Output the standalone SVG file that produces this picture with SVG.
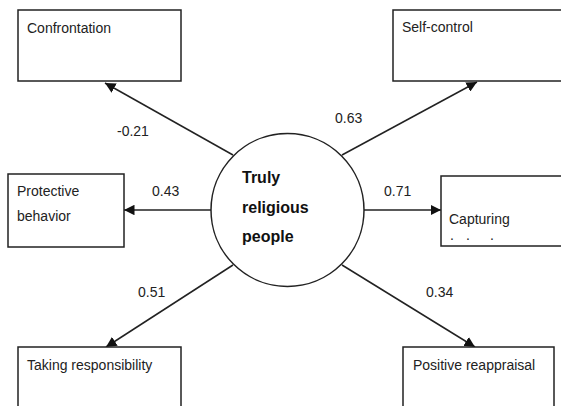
<svg xmlns="http://www.w3.org/2000/svg" width="561" height="406" viewBox="0 0 561 406">
<style>
.box{fill:#fff;stroke:#222;stroke-width:1.5}
.t{font-family:"Liberation Sans",Arial,sans-serif;font-size:14px;fill:#222}
.b{font-family:"Liberation Sans",Arial,sans-serif;font-size:16px;font-weight:bold;fill:#111}
.c{stroke:#222;stroke-width:1.5;fill:none;marker-end:url(#ah)}
</style>
<defs>
<marker id="ah" viewBox="0 0 10 10" refX="10" refY="5" markerWidth="7" markerHeight="7" markerUnits="strokeWidth" orient="auto">
<path d="M0,0 L10,5 L0,10 z" fill="#111"/>
</marker>
</defs>
<rect width="561" height="406" fill="#fff"/>
<g id="connectors">
<line class="c" x1="233" y1="155" x2="105" y2="83"/>
<line class="c" x1="342" y1="155" x2="477" y2="82"/>
<line class="c" x1="211" y1="210" x2="124" y2="210"/>
<line class="c" x1="364" y1="210" x2="441" y2="210"/>
<line class="c" x1="233" y1="265" x2="106" y2="347"/>
<line class="c" x1="342" y1="265" x2="475" y2="347"/>
<text class="t" x="117" y="136">-0.21</text>
<text class="t" x="335" y="123">0.63</text>
<text class="t" x="152" y="196">0.43</text>
<text class="t" x="384" y="196">0.71</text>
<text class="t" x="138" y="297">0.51</text>
<text class="t" x="426" y="297">0.34</text>
</g>
<g id="center">
<circle cx="287.5" cy="210" r="76.5" fill="#fff" stroke="#222" stroke-width="1.5"/>
<text class="b" x="242" y="183">Truly</text>
<text class="b" x="242" y="213">religious</text>
<text class="b" x="242" y="242">people</text>
</g>
<g id="confrontation">
<rect class="box" x="18" y="10" width="163" height="71"/>
<text class="t" x="27" y="33">Confrontation</text>
</g>
<g id="self-control">
<rect class="box" x="393" y="10" width="175" height="71"/>
<text class="t" x="402" y="32">Self-control</text>
</g>
<g id="protective">
<rect class="box" x="8" y="174" width="116" height="73"/>
<text class="t" x="17" y="196">Protective</text>
<text class="t" x="17" y="221">behavior</text>
</g>
<g id="capturing">
<rect class="box" x="441" y="176" width="130" height="70"/>
<text class="t" x="449" y="224">Capturing</text>
<text class="t" x="450" y="240">.</text>
<text class="t" x="466" y="240">.</text>
<text class="t" x="490" y="240">.</text>
</g>
<g id="taking">
<rect class="box" x="18" y="347" width="163" height="70"/>
<text class="t" x="27" y="370">Taking responsibility</text>
</g>
<g id="positive">
<rect class="box" x="403" y="347" width="151" height="70"/>
<text class="t" x="413" y="370">Positive reappraisal</text>
</g>
</svg>
